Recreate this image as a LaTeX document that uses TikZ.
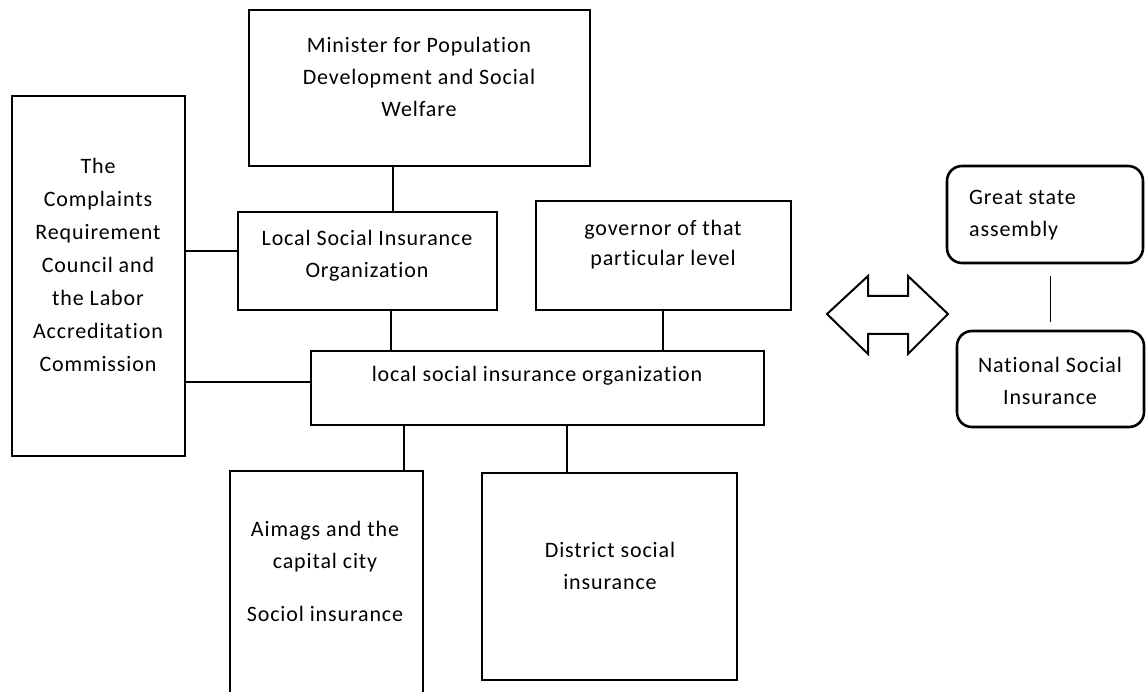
\documentclass[tikz,border=0pt]{standalone}
\usepackage{fontspec}
\setmainfont{Carlito}[Ligatures=NoCommon,LetterSpace=4]
\begin{document}
\begin{tikzpicture}[x=1pt,y=-1pt,
  box/.style={draw,line width=2.6pt,inner sep=0pt,outer sep=0pt},
  rbox/.style={box,rounded corners=15pt},
  txt/.style={align=center,inner sep=0pt,font=\fontsize{22}{32}\selectfont},
  conn/.style={line width=1.4pt}]
\useasboundingbox (0,0) rectangle (1146,692);
% boxes
\node[box,minimum width=341pt,minimum height=156pt] (minister) at (419.5,88) {};
\node[box,minimum width=173pt,minimum height=360pt] (complaints) at (98.5,276) {};
\node[box,minimum width=259pt,minimum height=98pt] (local) at (367.5,261) {};
\node[box,minimum width=255pt,minimum height=109pt] (governor) at (663.5,255.5) {};
\node[box,minimum width=453pt,minimum height=74pt] (wide) at (537.5,388) {};
\node[box,minimum width=193pt,minimum height=232pt] (aimags) at (326.5,587) {};
\node[box,minimum width=255pt,minimum height=207pt] (district) at (609.5,576.5) {};
\node[rbox,minimum width=196pt,minimum height=97pt] (great) at (1045,214.5) {};
\node[rbox,minimum width=187pt,minimum height=96pt] (national) at (1050.5,379) {};
% texts
\node[txt] (tminister) at (419,77) {Minister for Population\\Development and Social\\Welfare};
\node[txt,font=\fontsize{22}{33}\selectfont] (tcomplaints) at (98,265) {The\\Complaints\\Requirement\\Council and\\the Labor\\Accreditation\\Commission};
\node[txt] (tlocal) at (367,256) {Local Social Insurance\\Organization};
\node[txt,font=\fontsize{22}{30}\selectfont] (tgovernor) at (663,245) {governor of that\\particular level};
\node[txt] (twide) at (537,376) {local social insurance organization};
\node[txt] (taimags) at (325,571) {Aimags and the\\capital city\\[21pt]Sociol insurance};
\node[txt] (tdistrict) at (610,566) {District social\\insurance};
\node[txt,align=left,anchor=west] (tgreat) at (969,215) {Great state\\assembly};
\node[txt] (tnational) at (1050,381) {National Social\\Insurance};
% connector x/y guides
\coordinate (g393) at (393,0);
\coordinate (g391) at (391,0);
\coordinate (g663) at (663,0);
\coordinate (g404) at (404,0);
\coordinate (g567) at (567,0);
\coordinate (g251) at (0,251);
\coordinate (g382) at (0,382);
% connectors
\draw[conn] (minister.south -| g393) -- (local.north -| g393);
\draw[conn] (complaints.east |- g251) -- (local.west |- g251);
\draw[conn] (complaints.east |- g382) -- (wide.west |- g382);
\draw[conn] (local.south -| g391) -- (wide.north -| g391);
\draw[conn] (governor.south -| g663) -- (wide.north -| g663);
\draw[conn] (wide.south -| g404) -- (aimags.north -| g404);
\draw[conn] (wide.south -| g567) -- (district.north -| g567);
\draw[conn,shorten <=13pt,shorten >=9pt] (great.south -| national.north) -- (national.north);
% double arrow
\draw[line width=2pt,line join=miter]
  (827,314) -- (868,276) -- (868,296) -- (908,296) -- (908,276) -- (948,314)
  -- (908,354) -- (908,334) -- (868,334) -- (868,354) -- cycle;
\end{tikzpicture}
\end{document}
